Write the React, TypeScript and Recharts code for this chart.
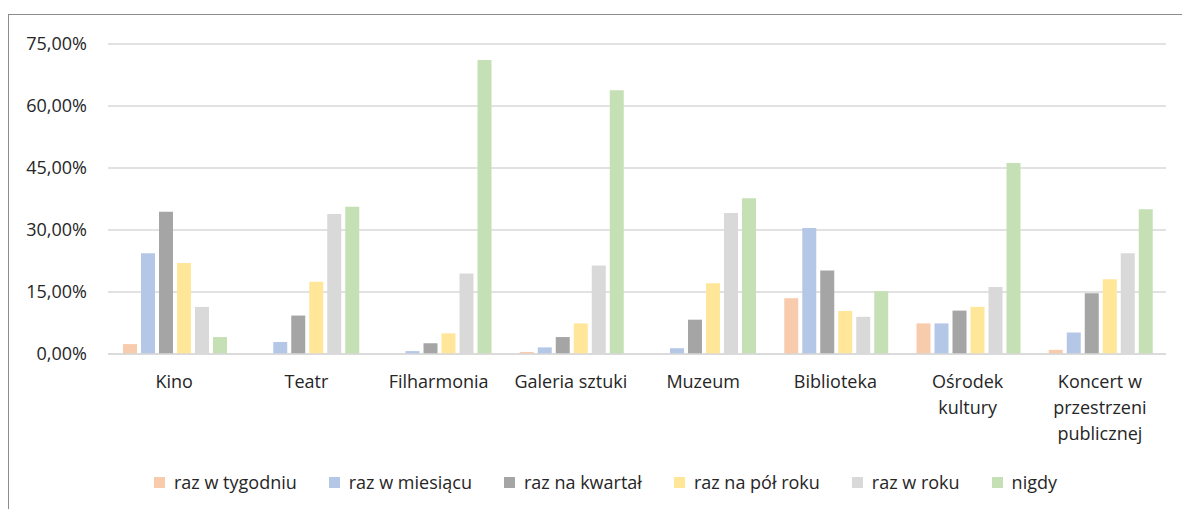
import React from 'react';
import { BarChart, Bar, XAxis, YAxis, CartesianGrid, Legend } from 'recharts';

const categories = ['Kino', 'Teatr', 'Filharmonia', 'Galeria sztuki', 'Muzeum', 'Biblioteka', 'Ośrodek kultury', 'Koncert w przestrzeni publicznej'];
const categoryLines: string[][] = [
  ['Kino'], ['Teatr'], ['Filharmonia'], ['Galeria sztuki'], ['Muzeum'], ['Biblioteka'],
  ['Ośrodek', 'kultury'], ['Koncert w', 'przestrzeni', 'publicznej'],
];

const seriesNames = ['raz w tygodniu', 'raz w miesiącu', 'raz na kwartał', 'raz na pół roku', 'raz w roku', 'nigdy'];
const seriesColors = ['#F8CBAD', '#B4C7E7', '#A5A5A5', '#FFE699', '#D9D9D9', '#C5E0B4'];

const razWTygodniu = [2.4, 0, 0, 0.5, 0, 13.5, 7.4, 1.0];
const razWMiesiacu = [24.4, 2.9, 0.7, 1.6, 1.4, 30.5, 7.4, 5.2];
const razNaKwartal = [34.4, 9.3, 2.6, 4.1, 8.3, 20.2, 10.5, 14.7];
const razNaPolRoku = [22.0, 17.5, 5.0, 7.4, 17.1, 10.4, 11.4, 18.1];
const razWRoku = [11.4, 33.9, 19.5, 21.4, 34.1, 9.0, 16.2, 24.4];
const nigdy = [4.1, 35.6, 71.1, 63.8, 37.7, 15.2, 46.2, 35.0];

const yTicks = [0, 15, 30, 45, 60, 75];

const seriesValues = [razWTygodniu, razWMiesiacu, razNaKwartal, razNaPolRoku, razWRoku, nigdy];
const data = categories.map((c, i) => {
  const row: Record<string, any> = { name: c, idx: i };
  seriesNames.forEach((s, k) => { row[s] = seriesValues[k][i]; });
  return row;
});

const TEXT = '#262626';
const FONT = '"Open Sans", sans-serif';

const CatTick = (props: any) => {
  const { x, y, payload } = props;
  const idx = categories.indexOf(payload.value);
  const lines = idx >= 0 ? categoryLines[idx] : [String(payload.value)];
  return (
    <text x={x} y={y} textAnchor="middle" fill={TEXT} fontSize={18} fontFamily={FONT}>
      {lines.map((l, i) => (
        <tspan key={i} x={x} y={y + 34 + i * 26}>{l}</tspan>
      ))}
    </text>
  );
};

const LegendContent = () => (
  <div style={{ display: 'flex', justifyContent: 'center', alignItems: 'center', gap: 32, paddingLeft: 36, height: 24, fontFamily: FONT, fontSize: 18, color: TEXT }}>
    {seriesNames.map((s, k) => (
      <div key={s} style={{ display: 'flex', alignItems: 'center', whiteSpace: 'nowrap' }}>
        <span style={{ display: 'inline-block', width: 11, height: 11, background: seriesColors[k], marginRight: 9 }} />
        <span>{s}</span>
      </div>
    ))}
  </div>
);

export default function App() {
  return (
    <div style={{ position: 'absolute', left: 8, top: 14, width: 1173, height: 494, borderTop: '1px solid #8c8c8c', borderLeft: '1px solid #8c8c8c', background: '#fff', fontFamily: FONT, overflow: 'hidden' }}>
      <BarChart
        width={1173}
        height={494}
        data={data}
        margin={{ top: 29, right: 16, bottom: 15, left: 0 }}
        barCategoryGap={15}
        barGap={4}
      >
        <CartesianGrid horizontal vertical={false} stroke="#D9D9D9" strokeWidth={1.5} />
        <XAxis
          dataKey="name"
          interval={0}
          height={116}
          tickLine={false}
          tickSize={0}
          tickMargin={0}
          axisLine={{ stroke: '#D9D9D9', strokeWidth: 1.5 }}
          tick={<CatTick />}
        />
        <YAxis
          width={99}
          domain={[0, 75]}
          ticks={yTicks}
          interval={0}
          axisLine={false}
          tickLine={false}
          tickSize={0}
          tickMargin={21}
          tick={{ fill: TEXT, fontSize: 18, fontFamily: FONT }}
          tickFormatter={(v: number) => v.toFixed(2).replace('.', ',') + '%'}
        />
        <Legend verticalAlign="bottom" content={<LegendContent />} />
        {seriesNames.map((s, k) => (
          <Bar key={s} dataKey={s} fill={seriesColors[k]} isAnimationActive={false} />
        ))}
      </BarChart>
    </div>
  );
}
